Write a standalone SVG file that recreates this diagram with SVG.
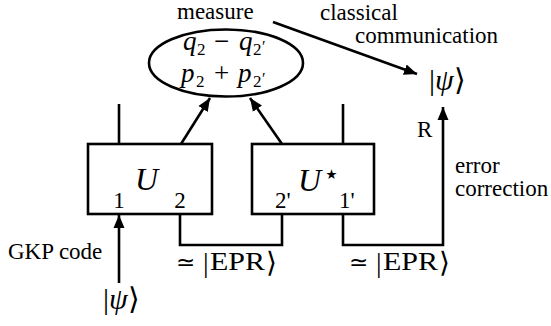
<svg xmlns="http://www.w3.org/2000/svg" width="551" height="326" viewBox="0 0 551 326" font-family="'Liberation Serif', 'Times New Roman', Times, serif">
<style>
text{font-family:'Liberation Serif','Times New Roman',Times,serif;font-size:23px;fill:#000}
.i{font-style:italic}
.big{font-size:32px}
.ket{font-size:30px}
.sub{font-size:17px}
.pr{font-size:16px}
.mth{font-size:27px}
.br{font-size:28px}
.epr{font-size:25px}
.ln{fill:none;stroke:#000;stroke-width:2.6}
.box{fill:#fff;stroke:#000;stroke-width:2.6}
</style>
<defs>
<marker id="ah" markerUnits="userSpaceOnUse" markerWidth="14" markerHeight="12" refX="13" refY="6" orient="auto">
<path d="M0,0.5 L13,6 L0,11.5 Z" fill="#000"/>
</marker>
</defs>
<g id="connectors">
<path class="ln" d="M119,104 V144"/>
<path class="ln" d="M343,104 V144"/>
<path class="ln" d="M181,144 L210,98" marker-end="url(#ah)"/>
<path class="ln" d="M282,144 L250,98" marker-end="url(#ah)"/>
<path class="ln" d="M273,22 L417,74" marker-end="url(#ah)"/>
<path class="ln" d="M119,283 V215" marker-end="url(#ah)"/>
<path class="ln" d="M180,214 V245 H282 V214"/>
<path class="ln" d="M343,214 V245 H443 V107" marker-end="url(#ah)"/>
</g>
<g id="measure">
<ellipse class="ln" cx="226" cy="63" rx="77" ry="33.5"/>
<text x="177" y="19">measure</text>
<text class="mth i" x="183" y="50">q</text>
<text class="sub" x="197" y="55">2</text>
<text class="mth" x="214" y="50">−</text>
<text class="mth i" x="239" y="50">q</text>
<text class="sub" x="253" y="55">2</text>
<text class="pr" x="262" y="52">′</text>
<text class="mth i" x="181" y="82">p</text>
<text class="sub" x="196" y="87">2</text>
<text class="mth" x="214" y="82">+</text>
<text class="mth i" x="238" y="82">p</text>
<text class="sub" x="253" y="87">2</text>
<text class="pr" x="262" y="84">′</text>
</g>
<g id="classical">
<text x="320" y="20">classical</text>
<text x="355" y="43">communication</text>
</g>
<g id="U">
<rect class="box" x="88" y="144" width="124" height="70"/>
<text class="big i" x="135" y="190">U</text>
<text x="119" y="208" text-anchor="middle">1</text>
<text x="180" y="208" text-anchor="middle">2</text>
</g>
<g id="Ustar">
<rect class="box" x="252" y="144" width="122" height="70"/>
<text class="big i" x="298" y="191">U</text>
<text x="323" y="183" style="font-size:27px;font-family:'DejaVu Serif',serif">⋆</text>
<text x="275" y="208">2'</text>
<text x="339" y="208">1'</text>
</g>
<g id="input">
<text x="8" y="259">GKP code</text>
<text class="ket" x="103" y="309">|<tspan class="i">ψ</tspan>⟩</text>
</g>
<g id="epr1">
<text x="176" y="270">≃</text>
<text class="br" x="203" y="272">|</text>
<text class="epr" x="210" y="270" textLength="55" lengthAdjust="spacingAndGlyphs">EPR</text>
<text class="br" x="266" y="272">⟩</text>
</g>
<g id="epr2">
<text x="349" y="270">≃</text>
<text class="br" x="376" y="272">|</text>
<text class="epr" x="383" y="270" textLength="55" lengthAdjust="spacingAndGlyphs">EPR</text>
<text class="br" x="439" y="272">⟩</text>
</g>
<g id="output">
<text x="417" y="137">R</text>
<text class="ket" x="429" y="90">|<tspan class="i">ψ</tspan>⟩</text>
<text x="455" y="173">error</text>
<text x="455" y="196">correction</text>
</g>
</svg>
